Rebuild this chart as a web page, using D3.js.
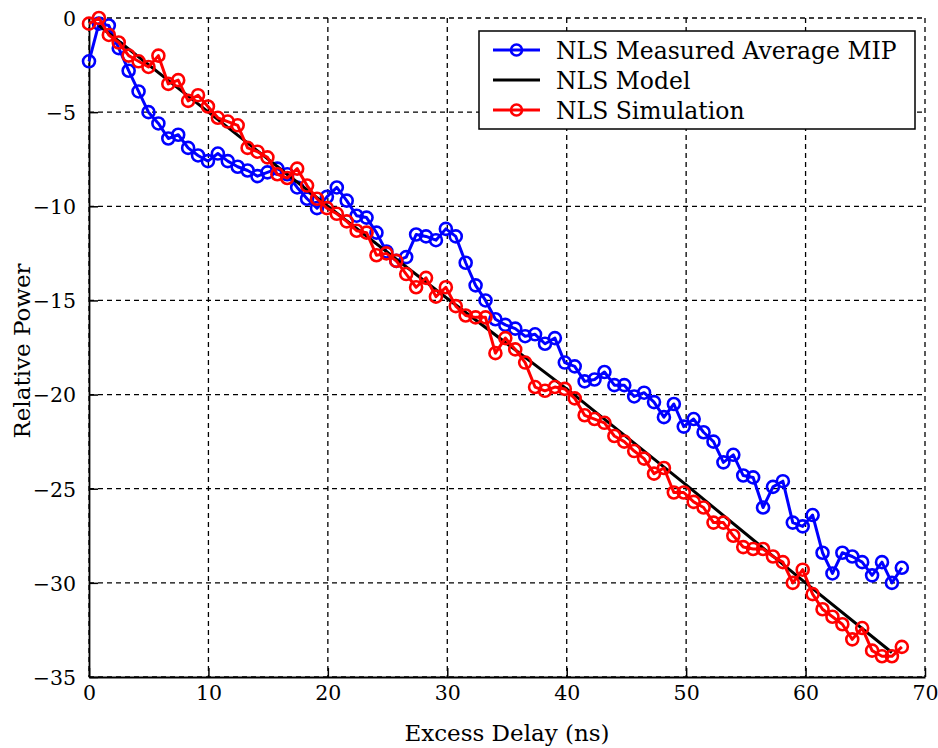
<!DOCTYPE html>
<html>
<head>
<meta charset="utf-8">
<script src="https://cdn.jsdelivr.net/npm/d3@7/dist/d3.min.js"></script>
<style>
  html, body { margin: 0; padding: 0; background: #fff; }
  svg { display: block; }
</style>
</head>
<body>
<svg id="chart" width="938" height="748"></svg>
<script>
// ---- data ----
const delays = [0, 0.83, 1.66, 2.49, 3.32, 4.15, 4.98, 5.81, 6.64, 7.47, 8.30, 9.13, 9.96, 10.79, 11.62,
  12.45, 13.28, 14.11, 14.94, 15.77, 16.60, 17.43, 18.26, 19.09, 19.92, 20.75, 21.58, 22.41, 23.24, 24.07,
  24.90, 25.73, 26.56, 27.39, 28.22, 29.05, 29.88, 30.71, 31.54, 32.37, 33.20, 34.03, 34.86, 35.69, 36.52,
  37.35, 38.18, 39.01, 39.84, 40.67, 41.50, 42.33, 43.16, 43.99, 44.82, 45.65, 46.48, 47.31, 48.14, 48.97,
  49.80, 50.63, 51.46, 52.29, 53.12, 53.95, 54.78, 55.61, 56.44, 57.27, 58.10, 58.93, 59.76, 60.59, 61.42,
  62.25, 63.08, 63.91, 64.74, 65.57, 66.40, 67.23, 68.06];

const measured = [-2.3, -0.3, -0.4, -1.6, -2.8, -3.9, -5.0, -5.6, -6.4, -6.2, -6.9, -7.3, -7.6, -7.2, -7.6,
  -7.9, -8.1, -8.4, -8.2, -8.0, -8.3, -9.0, -9.6, -10.1, -9.5, -9.0, -9.7, -10.5, -10.6, -11.4,
  -12.4, -12.9, -12.7, -11.5, -11.6, -11.8, -11.2, -11.6, -13.0, -14.2, -15.0, -16.0, -16.3, -16.5, -16.9,
  -16.8, -17.3, -17.0, -18.3, -18.5, -19.3, -19.2, -18.8, -19.5, -19.5, -20.1, -19.9, -20.4, -21.2, -20.5,
  -21.7, -21.3, -22.0, -22.5, -23.6, -23.2, -24.3, -24.4, -26.0, -24.9, -24.6, -26.8, -27.0, -26.4, -28.4,
  -29.5, -28.4, -28.6, -28.9, -29.6, -28.9, -30.0, -29.2];

const simulation = [-0.3, 0.0, -0.9, -1.3, -2.0, -2.3, -2.6, -2.0, -3.5, -3.3, -4.4, -4.1, -4.7, -5.3, -5.5,
  -5.7, -6.9, -7.1, -7.4, -8.3, -8.5, -8.0, -8.9, -9.6, -10.1, -10.4, -10.8, -11.3, -11.4, -12.6,
  -12.5, -12.9, -13.6, -14.3, -13.8, -14.8, -14.3, -15.3, -15.8, -15.9, -15.9, -17.8, -17.0, -17.6, -18.3,
  -19.6, -19.8, -19.6, -19.7, -20.2, -21.1, -21.3, -21.5, -22.2, -22.5, -23.0, -23.4, -24.2, -23.9, -25.2,
  -25.2, -25.7, -26.0, -26.8, -26.8, -27.5, -28.1, -28.2, -28.2, -28.6, -28.9, -30.0, -29.3, -30.6, -31.4,
  -31.8, -32.2, -33.0, -32.4, -33.6, -33.9, -33.9, -33.4];

const modelDelay = [0.83, 10, 20, 30, 40, 50, 60, 67.23];
const modelPower = [-0.4, -5.0, -10.0, -14.9, -19.7, -24.8, -30.0, -33.7];

const xTicks = [0, 10, 20, 30, 40, 50, 60, 70];
const yTicks = [0, -5, -10, -15, -20, -25, -30, -35];
const seriesNames = ["NLS Measured Average MIP", "NLS Model", "NLS Simulation"];
const seriesColors = ["#0000ff", "#000000", "#ff0000"];

// ---- layout ----
const svg = d3.select("#chart");
const L = 89, R = 925, T = 18, B = 677;
const x = d3.scaleLinear().domain([0, 70]).range([L, R]);
const y = d3.scaleLinear().domain([0, -35]).range([T, B]);
const font = "'DejaVu Serif', serif";

// grid
const grid = svg.append("g");
grid.selectAll("line.gx").data(xTicks).join("line")
  .attr("x1", d => x(d)).attr("x2", d => x(d)).attr("y1", T).attr("y2", B)
  .attr("stroke", "#000").attr("stroke-width", 1.3).attr("stroke-dasharray", "5,4");
grid.selectAll("line.gy").data(yTicks).join("line")
  .attr("y1", d => y(d)).attr("y2", d => y(d)).attr("x1", L).attr("x2", R)
  .attr("stroke", "#000").attr("stroke-width", 1.3).attr("stroke-dasharray", "5,4");

// axes
const xAxis = d3.axisBottom(x).tickValues(xTicks).tickSize(-9).tickPadding(8).tickSizeOuter(0);
const yAxis = d3.axisLeft(y).tickValues(yTicks).tickSize(-9).tickPadding(13).tickSizeOuter(0);
const gx = svg.append("g").attr("transform", `translate(0,${B})`).call(xAxis);
const gy = svg.append("g").attr("transform", `translate(${L},0)`).call(yAxis);
[gx, gy].forEach(g => {
  g.attr("font-family", null).attr("font-size", null);
  g.select(".domain").attr("stroke", "#000").attr("stroke-width", 1.8);
  g.selectAll(".tick line").attr("stroke", "#000").attr("stroke-width", 1.5);
  g.selectAll(".tick text").style("font-family", font).style("font-size", "20.5px").attr("fill", "#000");
});
gy.selectAll(".tick text").attr("dy", "0.36em");

// series
const line = d3.line().x(d => x(d[0])).y(d => y(d[1]));
const blueData = delays.map((d, i) => [d, measured[i]]);
const redData = delays.map((d, i) => [d, simulation[i]]);
const modelData = modelDelay.map((d, i) => [d, modelPower[i]]);

function drawSeries(data, color, markers) {
  const g = svg.append("g");
  g.append("path").attr("d", line(data)).attr("fill", "none")
    .attr("stroke", color).attr("stroke-width", 3).attr("stroke-linejoin", "round");
  if (markers) {
    g.selectAll("circle").data(data).join("circle")
      .attr("cx", d => x(d[0])).attr("cy", d => y(d[1])).attr("r", 6)
      .attr("fill", "none").attr("stroke", color).attr("stroke-width", 2.6);
  }
}
drawSeries(blueData, seriesColors[0], true);
drawSeries(modelData, seriesColors[1], false);
drawSeries(redData, seriesColors[2], true);

// axis labels
svg.append("text").attr("x", 507).attr("y", 741).attr("text-anchor", "middle")
  .style("font-family", font).style("font-size", "23px").text("Excess Delay (ns)");
svg.append("text").attr("transform", `translate(30,351) rotate(-90)`).attr("text-anchor", "middle")
  .style("font-family", font).style("font-size", "23px").text("Relative Power");

// legend
const lg = svg.append("g");
lg.append("rect").attr("x", 479).attr("y", 31).attr("width", 436).attr("height", 98)
  .attr("fill", "#fff").attr("stroke", "#000").attr("stroke-width", 1.5);
const rowY = [50, 80, 110];
seriesNames.forEach((name, i) => {
  lg.append("line").attr("x1", 493).attr("x2", 540).attr("y1", rowY[i]).attr("y2", rowY[i])
    .attr("stroke", seriesColors[i]).attr("stroke-width", 3);
  if (i !== 1) {
    lg.append("circle").attr("cx", 516.5).attr("cy", rowY[i]).attr("r", 5.5)
      .attr("fill", "none").attr("stroke", seriesColors[i]).attr("stroke-width", 2.6);
  }
  lg.append("text").attr("x", 556).attr("y", rowY[i] + 8.5)
    .style("font-family", font).style("font-size", "23.5px")
    .attr("fill", "#000").text(name);
});
</script>
</body>
</html>
